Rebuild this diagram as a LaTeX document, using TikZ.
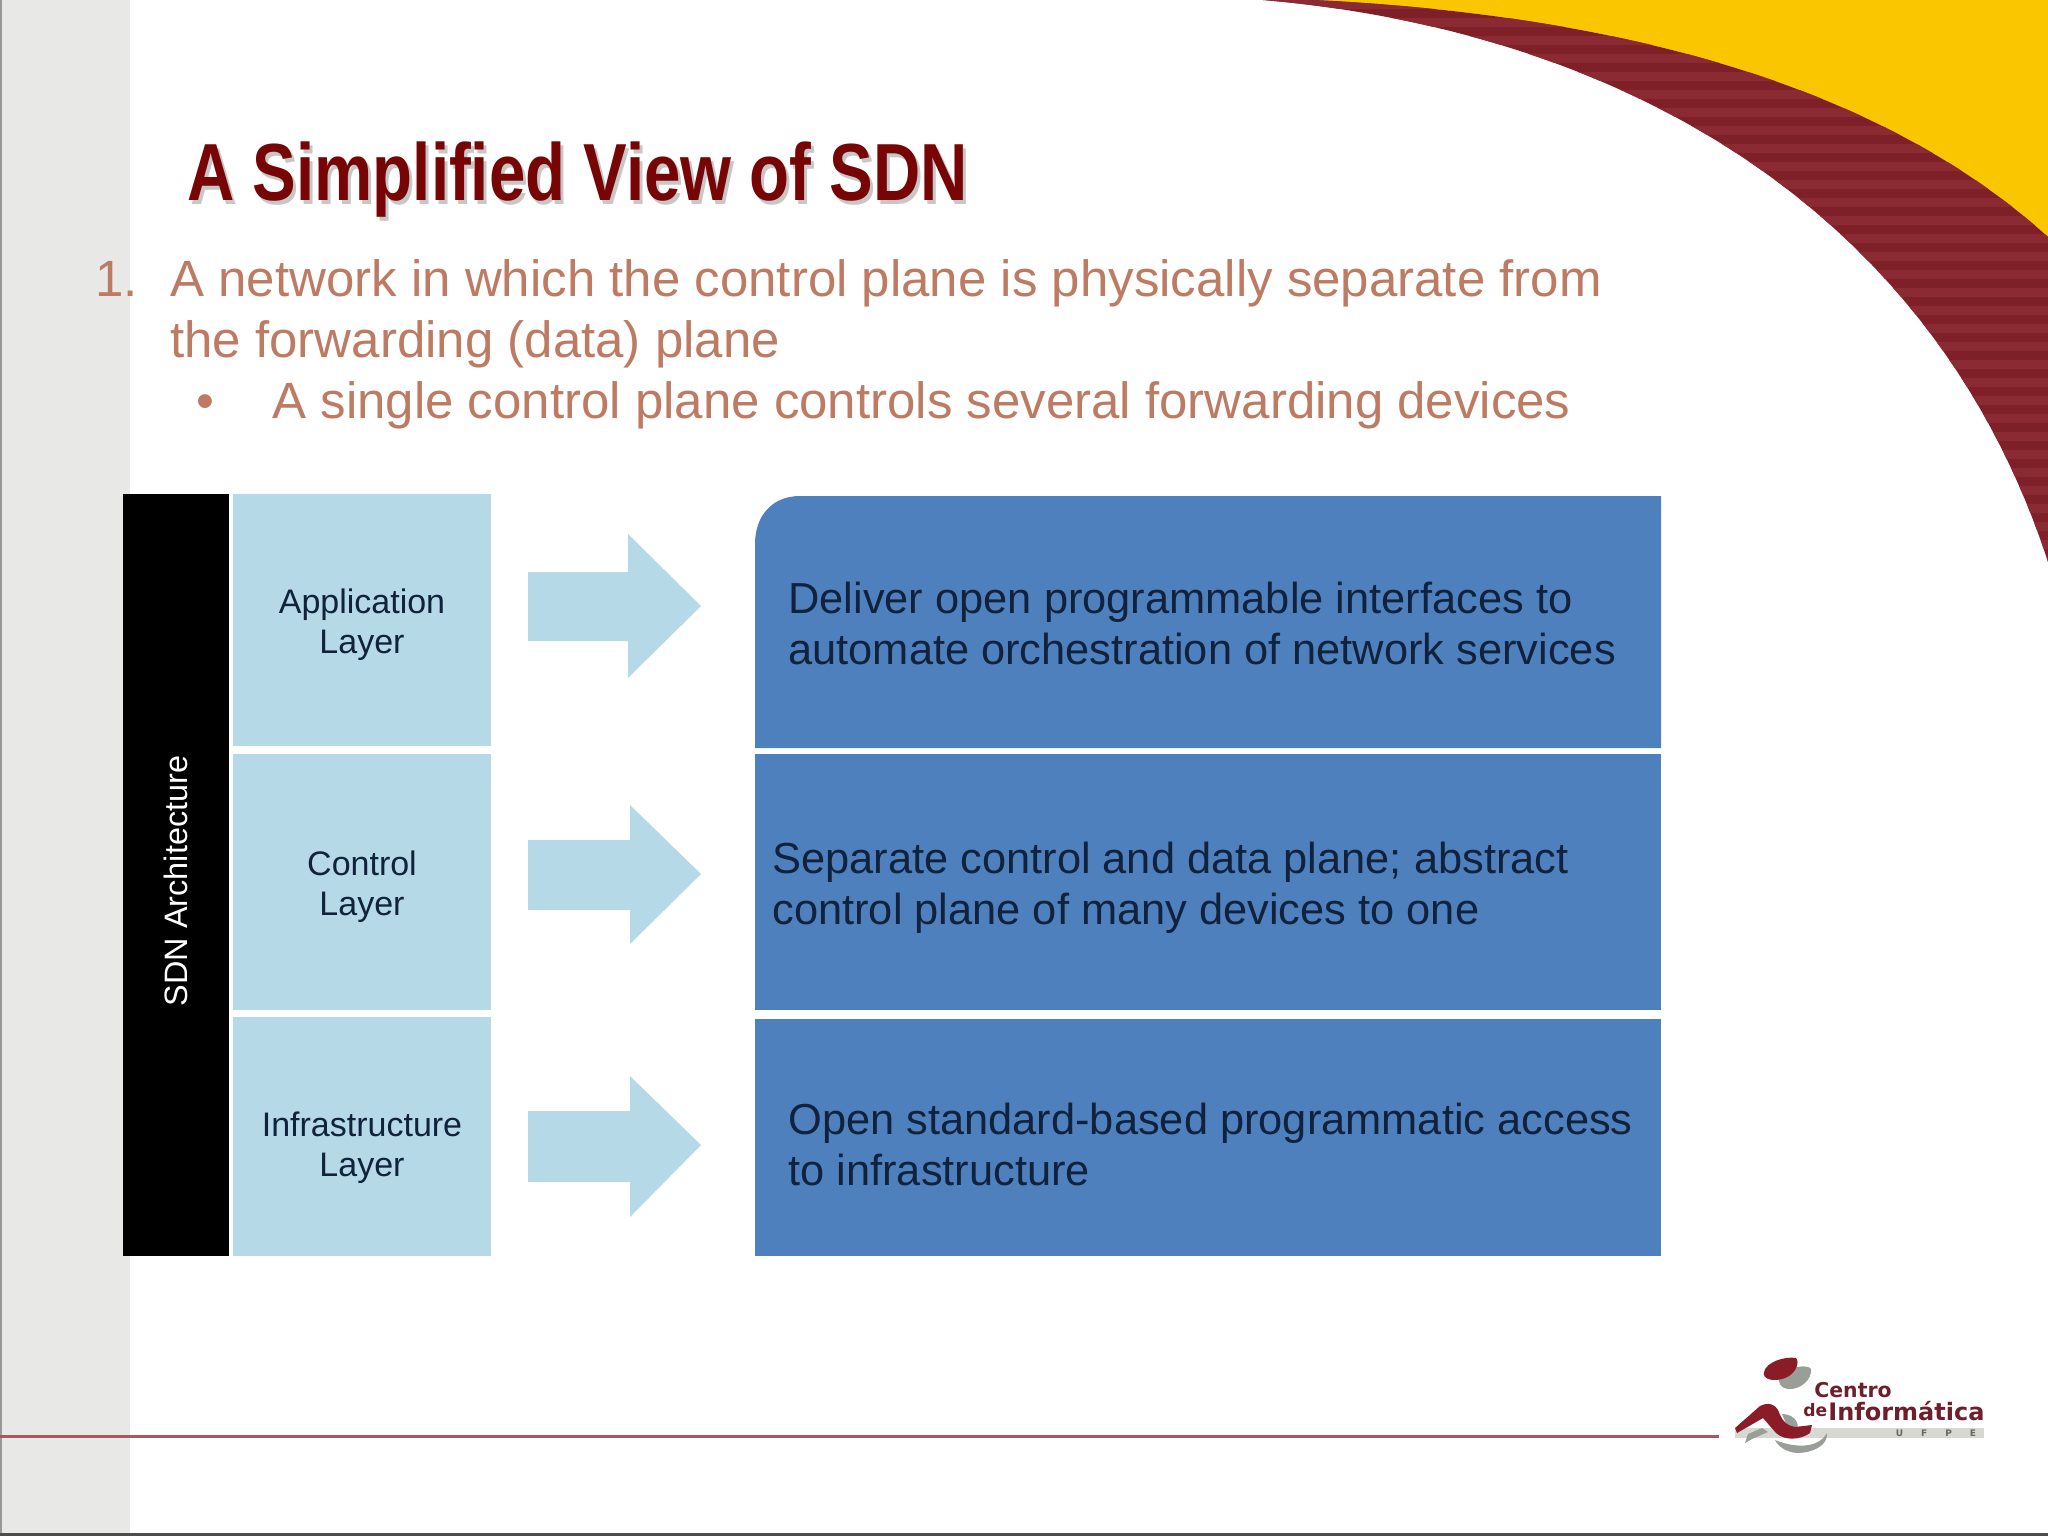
\documentclass[tikz,border=0pt]{standalone}
\usepackage{fontspec}
\usepackage{graphicx}
\setmainfont{Liberation Sans}
\newfontfamily\logofont{DejaVu Sans}
\definecolor{sidebar}{HTML}{E8E9E7}
\definecolor{titlered}{HTML}{770505}
\definecolor{bodytxt}{HTML}{BE7B63}
\definecolor{lightblue}{HTML}{B6D9E7}
\definecolor{midblue}{HTML}{4F80BE}
\definecolor{darktxt}{HTML}{10223C}
\definecolor{maroon}{HTML}{7F2029}
\definecolor{maroonb}{HTML}{8C2A34}
\definecolor{gold}{HTML}{F9C600}
\definecolor{rulecol}{HTML}{A55A60}
\definecolor{logored}{HTML}{8A1C28}
\definecolor{logotxt}{HTML}{6E1F2C}
\definecolor{logogray}{HTML}{9A9E98}
\definecolor{logoband}{HTML}{D8D8D2}
\tikzset{
  flat/.style={inner sep=0pt,outer sep=0pt,anchor=north west},
  lightbox/.style={flat,fill=lightblue,minimum width=258.5pt*0.5},
  bluebox/.style={flat,fill=midblue},
  bodyline/.style={anchor=base west,inner sep=0pt,text=bodytxt,font=\fontsize{25.5}{30}\selectfont},
  bluetext/.style={anchor=base west,inner sep=0pt,text=darktxt,font=\fontsize{21.7}{25}\selectfont},
  layertext/.style={inner sep=0pt,text=darktxt,align=center,font=\fontsize{17}{20}\selectfont},
  blockarrow/.style={fill=lightblue},
  logotext/.style={anchor=base west,inner sep=0pt,text=logotxt},
}
\begin{document}
\begin{tikzpicture}[x=0.5pt,y=-0.5pt]
\useasboundingbox (0,0) rectangle (2048,1536);
\fill[white] (0,0) rectangle (2048,1536);
% side bar and page edges
\fill[sidebar] (0,0) rectangle (130,1536);
\fill[gray!80] (0,0) rectangle (2,1536);
\fill[gray!60!black] (0,1533) rectangle (2048,1536);
% corner swoosh
\fill[gold] (1314,0) .. controls (1620,15) and (1880,85) .. (2048,237) -- (2048,0) -- cycle;
\begin{scope}
\clip (1263,0) .. controls (1610,30) and (1930,200) .. (2048,562) -- (2048,237) .. controls (1880,85) and (1620,15) .. (1314,0) -- cycle;
\fill[maroon] (1240,0) rectangle (2048,570);
\foreach \s in {0,18,...,558} {\fill[maroonb] (1240,\s) rectangle (2048,\s+9);}
\end{scope}
% title
\node[anchor=base west,inner sep=0pt,text=black!22] (titleshadow) at (190,204) {\fontsize{40.5}{48}\selectfont\bfseries\scalebox{0.808}[1]{A Simplified View of SDN}};
\node[anchor=base west,inner sep=0pt,text=titlered] (title) at (187,200) {\fontsize{40.5}{48}\selectfont\bfseries\scalebox{0.808}[1]{A Simplified View of SDN}};
% body
\node[bodyline] (num) at (95,296) {1.};
\node[bodyline] (line1) at (170,296) {A network in which the control plane is physically separate from};
\node[bodyline] (line2) at (170,357) {the forwarding (data) plane};
\node[bodyline] (bullet) at (196,418) {•};
\node[bodyline] (line3) at (272,418) {A single control plane controls several forwarding devices};
% left column
\node[flat,fill=black,minimum width=53pt,minimum height=381pt] (sdn) at (123,494) {};
\node[inner sep=0pt,text=white,rotate=90,font=\fontsize{16.2}{20}\selectfont] (sdnlabel) at (176,881) {SDN Architecture};
\node[lightbox,minimum height=126pt] (app) at (232.5,494) {};
\node[lightbox,minimum height=128pt] (ctl) at (232.5,754) {};
\node[lightbox,minimum height=119.5pt] (inf) at (232.5,1017) {};
\node[layertext] (applabel) at (362,625) {Application\\Layer};
\node[layertext] (ctllabel) at (362,887) {Control\\Layer};
\node[layertext] (inflabel) at (362,1148) {Infrastructure\\Layer};
% arrows
\fill[blockarrow] (528,572) -- (628,572) -- (628,534) -- (701,606) -- (628,678) -- (628,641) -- (528,641) -- cycle;
\fill[blockarrow] (528,840) -- (630,840) -- (630,805) -- (701,874) -- (630,944) -- (630,910) -- (528,910) -- cycle;
\fill[blockarrow] (528,1111) -- (630,1111) -- (630,1076) -- (701,1145) -- (630,1217) -- (630,1182) -- (528,1182) -- cycle;
% right boxes
\fill[midblue] (755,748) -- (755,544) .. controls (755,516) and (772,496) .. (800,496) -- (1661,496) -- (1661,748) -- cycle;
\node[bluebox,minimum width=453pt,minimum height=128pt] (mid) at (755,754) {};
\node[bluebox,minimum width=453pt,minimum height=118.5pt] (low) at (755,1019) {};
\node[bluetext] (a1) at (788,613) {Deliver open programmable interfaces to};
\node[bluetext] (a2) at (788,664) {automate orchestration of network services};
\node[bluetext] (b1) at (772,873) {Separate control and data plane; abstract};
\node[bluetext] (b2) at (772,924) {control plane of many devices to one};
\node[bluetext] (c1) at (788,1134) {Open standard-based programmatic access};
\node[bluetext] (c2) at (788,1185) {to infrastructure};
% footer rule
\coordinate (ruleL) at (0,1436.5);
\coordinate (ruleR) at (1719,1436.5);
\draw[rulecol,line width=1.5pt] (ruleL) -- (ruleR);
% logo
\fill[logogray] (1780,1376) .. controls (1790,1366) and (1808,1364) .. (1811,1369) .. controls (1812,1380) and (1800,1390) .. (1788,1389) .. controls (1782,1389) and (1776,1382) .. (1780,1376) -- cycle;
\fill[logored] (1764,1372) .. controls (1766,1362) and (1785,1356) .. (1796,1358) .. controls (1800,1362) and (1796,1374) .. (1785,1378) .. controls (1775,1382) and (1762,1380) .. (1764,1372) -- cycle;
\fill[logoband] (1735,1428) rectangle (1984,1438);
\fill[logogray] (1745,1443) -- (1748,1434) -- (1762,1428) -- (1768,1432) -- (1752,1439) -- cycle;
\fill[logogray] (1782,1414) .. controls (1793,1414) and (1800,1422) .. (1797,1430) -- (1788,1428) -- cycle;
\fill[logogray] (1775,1440) .. controls (1800,1450) and (1820,1446) .. (1827,1433) .. controls (1828,1446) and (1812,1453) .. (1797,1453) .. controls (1785,1452) and (1778,1446) .. (1775,1440) -- cycle;
\fill[logored] (1735,1428) -- (1760,1406) .. controls (1768,1402) and (1775,1404) .. (1778,1410) .. controls (1782,1420) and (1785,1425) .. (1795,1427) -- (1812,1425) -- (1810,1433) .. controls (1800,1440) and (1785,1441) .. (1776,1433) -- (1763,1418) -- (1737,1433) -- cycle;
\node[logotext,font=\logofont\fontsize{10.2}{12}\selectfont\bfseries] (centro) at (1814,1397) {Centro};
\node[logotext,font=\logofont\fontsize{8.6}{10}\selectfont\bfseries] (de) at (1803,1416) {de};
\node[logotext,font=\logofont\fontsize{12}{14}\selectfont\bfseries] (info) at (1828,1420) {Informática};
\node[anchor=base,inner sep=0pt,text=black!60,font=\logofont\fontsize{4.5}{5}\selectfont\bfseries] (ufpe) at (1936,1436) {U\hspace{9pt}F\hspace{9pt}P\hspace{9pt}E};
\end{tikzpicture}
\end{document}
